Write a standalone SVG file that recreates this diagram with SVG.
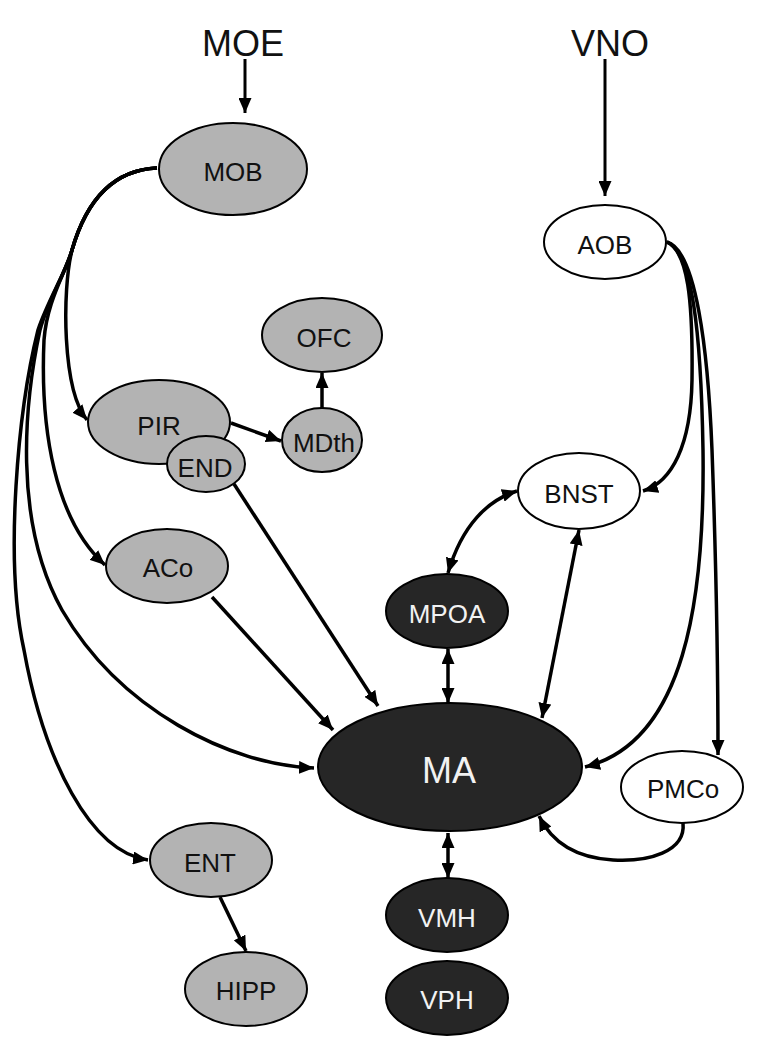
<svg xmlns="http://www.w3.org/2000/svg" width="758" height="1049" viewBox="0 0 758 1049">
<defs>
<marker id="ah" markerUnits="userSpaceOnUse" markerWidth="15" markerHeight="13" refX="15" refY="6.5" orient="auto-start-reverse">
<path d="M0,0 L15,6.5 L0,13 z" fill="#000"/>
</marker>
<style>
.c{fill:none;stroke:#000;stroke-width:3.5;marker-end:url(#ah)}
.b{marker-start:url(#ah)}
.g{fill:#b3b3b3;stroke:#000;stroke-width:2}
.w{fill:#fff;stroke:#000;stroke-width:2}
.d{fill:#262626;stroke:#000;stroke-width:2}
text{font-family:"Liberation Sans",Arial,sans-serif;text-anchor:middle}
.t{font-size:26px;fill:#111}
.tw{font-size:26px;fill:#f2f2f2}
.big{font-size:36px;fill:#111}
</style>
</defs>
<rect width="758" height="1049" fill="#fff"/>
<text class="big" x="243" y="56">MOE</text>
<text class="big" x="610" y="56">VNO</text>
<g id="connectors">
<path class="c" d="M245,59 L245,113" style="stroke-width:3"/>
<path class="c" d="M605,59 L605,196" style="stroke-width:3"/>
<path class="c" d="M157,168 C110,170 85,205 72,250 C62,290 62,390 87,420"/>
<path class="c" d="M157,168 C110,170 85,205 72,250 C66,272 47,300 44,340 C40,430 55,520 105,565"/>
<path class="c" d="M157,168 C110,170 85,205 72,250 C66,272 48,300 40,330 C25,400 12,520 62,610 C120,710 230,765 314,768"/>
<path class="c" d="M157,168 C110,170 85,205 72,250 C66,272 48,300 38,330 C18,410 4,560 24,650 C44,760 90,852 148,860"/>
<path class="c" d="M231,423 L281,441"/>
<path class="c" d="M322,408 L322,373"/>
<path class="c" d="M234,484 L378,706"/>
<path class="c" d="M212,597 L333,730"/>
<path class="c" d="M220,897 L246,951"/>
<path class="c" d="M667,242 C688,252 693,300 692,380 C691,445 672,482 643,491"/>
<path class="c" d="M667,242 C692,252 701,330 703,450 C705,600 685,742 585,767"/>
<path class="c" d="M667,242 C696,250 708,350 712,450 C716,560 718,680 718,755"/>
<path class="c" d="M683,823 C686,852 648,862 613,860 C578,858 553,845 539,816"/>
<path class="c b" d="M517,491 C488,500 462,525 448,573"/>
<path class="c b" d="M579,530 L542,718"/>
<path class="c b" d="M448,649 L448,703"/>
<path class="c b" d="M448,833 L448,878"/>
</g>
<g id="MOB"><ellipse class="g" cx="233" cy="169" rx="74" ry="46"/><text class="t" x="233" y="181">MOB</text></g>
<g id="AOB"><ellipse class="w" cx="605" cy="242" rx="61" ry="37"/><text class="t" x="605" y="254">AOB</text></g>
<g id="OFC"><ellipse class="g" cx="322" cy="335" rx="60" ry="37"/><text class="t" x="324" y="347">OFC</text></g>
<g id="PIR"><ellipse class="g" cx="159" cy="422" rx="71" ry="42"/><text class="t" x="159" y="435">PIR</text></g>
<g id="END"><ellipse class="g" cx="206" cy="464" rx="39" ry="28"/><text class="t" x="205" y="477">END</text></g>
<g id="MDth"><ellipse class="g" cx="322" cy="440" rx="40" ry="32"/><text class="t" x="324" y="452">MDth</text></g>
<g id="ACo"><ellipse class="g" cx="167" cy="566" rx="61" ry="37"/><text class="t" x="168" y="577">ACo</text></g>
<g id="BNST"><ellipse class="w" cx="579" cy="491" rx="61" ry="38"/><text class="t" x="579" y="503">BNST</text></g>
<g id="MPOA"><ellipse class="d" cx="447" cy="611" rx="61" ry="37"/><text class="tw" x="447" y="623">MPOA</text></g>
<g id="MA"><ellipse class="d" cx="450" cy="767" rx="132" ry="64"/><text class="tw" x="449" y="783" style="font-size:36px">MA</text></g>
<g id="PMCo"><ellipse class="w" cx="682" cy="787" rx="61" ry="36"/><text class="t" x="683" y="798">PMCo</text></g>
<g id="ENT"><ellipse class="g" cx="211" cy="860" rx="61" ry="37"/><text class="t" x="210" y="872">ENT</text></g>
<g id="VMH"><ellipse class="d" cx="447" cy="915" rx="61" ry="37"/><text class="tw" x="447" y="927">VMH</text></g>
<g id="HIPP"><ellipse class="g" cx="246" cy="989" rx="61" ry="37"/><text class="t" x="246" y="1000">HIPP</text></g>
<g id="VPH"><ellipse class="d" cx="447" cy="998" rx="61" ry="37"/><text class="tw" x="447" y="1009">VPH</text></g>
</svg>
